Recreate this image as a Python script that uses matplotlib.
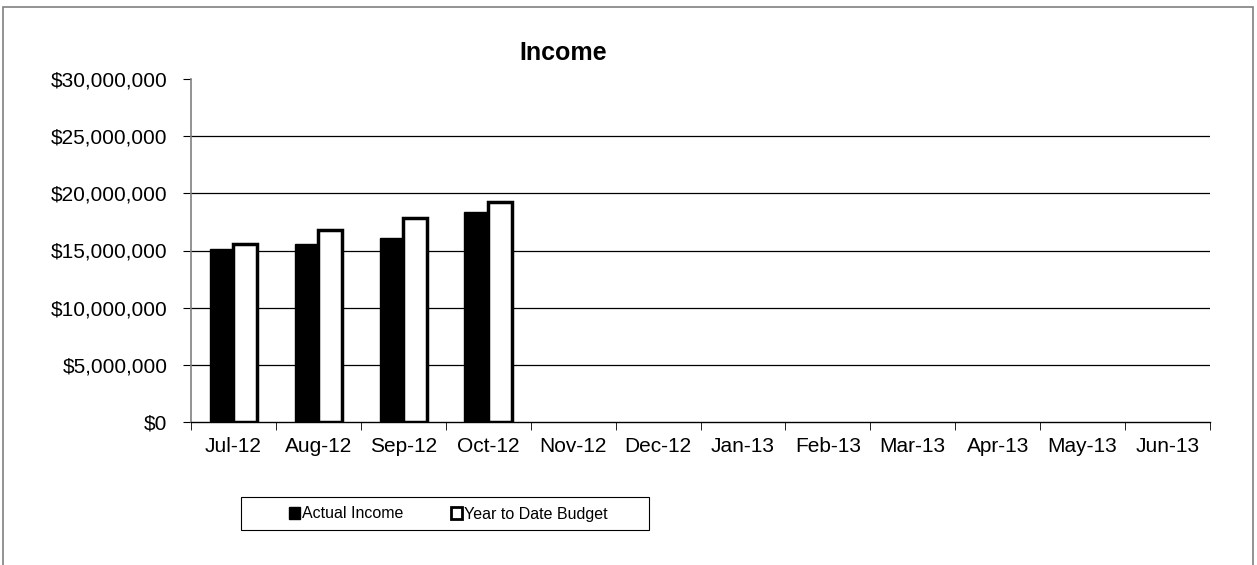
import numpy as np
import matplotlib
matplotlib.use('Agg')
import matplotlib.pyplot as plt
from matplotlib.patches import Rectangle
from matplotlib.ticker import FuncFormatter

plt.rcParams['font.family'] = ['Liberation Sans', 'DejaVu Sans']

months = ['Jul-12', 'Aug-12', 'Sep-12', 'Oct-12', 'Nov-12', 'Dec-12',
          'Jan-13', 'Feb-13', 'Mar-13', 'Apr-13', 'May-13', 'Jun-13']
actual_income = [15100000, 15600000, 16050000, 18400000]
ytd_budget = [15600000, 16750000, 17850000, 19200000]

W, H = 1257, 565
fig = plt.figure(figsize=(W/100, H/100), dpi=100)
ax = fig.add_axes([191/W, 1 - 422/H, (1210-191)/W, (422-79)/H])

# outer chart frame
fig.patches.append(Rectangle((3/W, -0.05), 1250/W, 1.05 - 7/H,
                             transform=fig.transFigure, fill=False,
                             edgecolor='#808080', linewidth=1.2))

w = 0.28
x = np.arange(len(actual_income))
ax.bar(x - w/2, actual_income, w, color='black', edgecolor='black',
       linewidth=1, label='Actual Income', zorder=3)
ax.bar(x + w/2, ytd_budget, w, color='white', edgecolor='black',
       linewidth=2.5, label='Year to Date Budget', zorder=3)

ax.set_xlim(-0.5, len(months) - 0.5)
ax.set_ylim(0, 30000000)
ax.set_yticks(np.arange(0, 30000001, 5000000))
ax.yaxis.set_major_formatter(FuncFormatter(lambda v, p: '${:,.0f}'.format(v)))
for yv in range(5000000, 30000000, 5000000):
    ax.axhline(yv, color='black', linewidth=0.9, zorder=1)

ax.set_xticks(np.arange(len(months)))
ax.set_xticklabels(months)
ax.set_xticks(np.arange(len(months) + 1) - 0.5, minor=True)
ax.tick_params(axis='x', which='major', length=0, pad=11, labelsize=15)
ax.tick_params(axis='x', which='minor', length=6, direction='out', color='black')
ax.tick_params(axis='y', length=6, direction='out', color='black', labelsize=15, pad=11)

for s in ['top', 'right']:
    ax.spines[s].set_visible(False)
ax.spines['left'].set_color('#808080')
ax.spines['left'].set_linewidth(1.2)
ax.spines['bottom'].set_color('black')
ax.spines['bottom'].set_linewidth(1)

fig.text(563/W, 1 - 53/H, 'Income', ha='center', va='center',
         fontsize=18, fontweight='bold')

# legend box
fig.patches.append(Rectangle((241/W, 1 - 530/H), 408/W, 33/H,
                             transform=fig.transFigure, fill=False,
                             edgecolor='black', linewidth=0.8))
leg = fig.legend(loc='center', bbox_to_anchor=(448/W, 1 - 514/H),
                 ncol=2, fontsize=11.5, frameon=False,
                 handlelength=0.7, handleheight=0.7,
                 handletextpad=0.1, columnspacing=3.0)
leg.legend_handles[1].set_linewidth(2)

fig.savefig('out.png', dpi=100)
